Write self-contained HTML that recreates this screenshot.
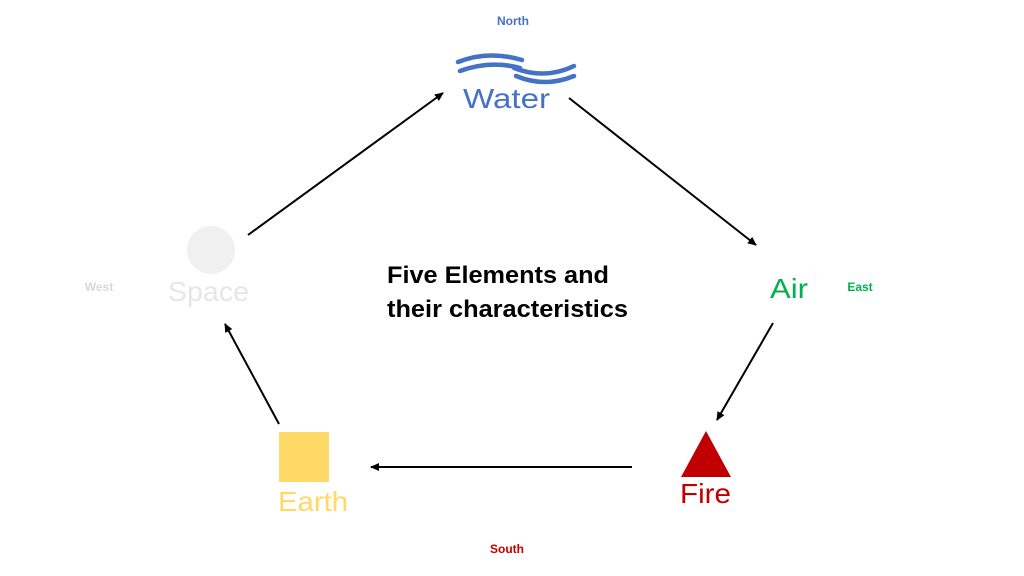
<!DOCTYPE html>
<html><head><style>body{margin:0;background:#fff}svg{display:block}</style></head><body>
<svg width="1024" height="576" viewBox="0 0 1024 576" xmlns="http://www.w3.org/2000/svg" font-family="Liberation Sans, sans-serif">
<defs><marker id="a" markerWidth="10" markerHeight="10" refX="8" refY="5" orient="auto" markerUnits="userSpaceOnUse"><path d="M0,1 L9,5 L0,9 z" fill="#000"/></marker></defs>
<g stroke="#000" stroke-width="2" marker-end="url(#a)">
<line x1="248" y1="235" x2="443" y2="93"/>
<line x1="569" y1="98" x2="756" y2="245"/>
<line x1="773" y1="323" x2="717" y2="420"/>
<line x1="632" y1="467" x2="371" y2="467"/>
<line x1="279" y1="424" x2="225" y2="324"/>
</g>
<text x="513" y="25" font-size="12" font-weight="bold" fill="#4472c4" text-anchor="middle">North</text>
<text x="507" y="553" font-size="12" font-weight="bold" fill="#c00000" text-anchor="middle">South</text>
<text x="99" y="291" font-size="12" font-weight="bold" fill="#d9d9d9" text-anchor="middle">West</text>
<text x="860" y="291" font-size="12" font-weight="bold" fill="#00b050" text-anchor="middle">East</text>
<g fill="none" stroke="#4472c4" stroke-width="4.5" stroke-linecap="round">
<path d="M458,62 Q488,50 522,60"/>
<path d="M460,71 Q490,60 520,68"/>
<path d="M514,68 Q545,80 574,66"/>
<path d="M516,76 Q545,88 574,76"/>
</g>
<text x="463" y="108" font-size="28" fill="#4472c4" textLength="87" lengthAdjust="spacingAndGlyphs">Water</text>
<circle cx="211" cy="250" r="24" fill="#f0f0f0"/>
<text x="168" y="301" font-size="28" fill="#e6e6e6" textLength="81" lengthAdjust="spacingAndGlyphs">Space</text>
<text x="770" y="298" font-size="28" fill="#00b050" textLength="38" lengthAdjust="spacingAndGlyphs">Air</text>
<polygon points="706,431 731,477 681,477" fill="#c00000"/>
<text x="680" y="503" font-size="28" fill="#c00000" textLength="51" lengthAdjust="spacingAndGlyphs">Fire</text>
<rect x="279" y="432" width="50" height="50" fill="#ffd966"/>
<text x="278" y="511" font-size="28" fill="#ffd966" textLength="70" lengthAdjust="spacingAndGlyphs">Earth</text>
<text x="387" y="283" font-size="24" font-weight="bold" fill="#000" textLength="222" lengthAdjust="spacingAndGlyphs">Five Elements and</text>
<text x="387" y="317" font-size="24" font-weight="bold" fill="#000" textLength="241" lengthAdjust="spacingAndGlyphs">their characteristics</text>
</svg>
</body></html>
